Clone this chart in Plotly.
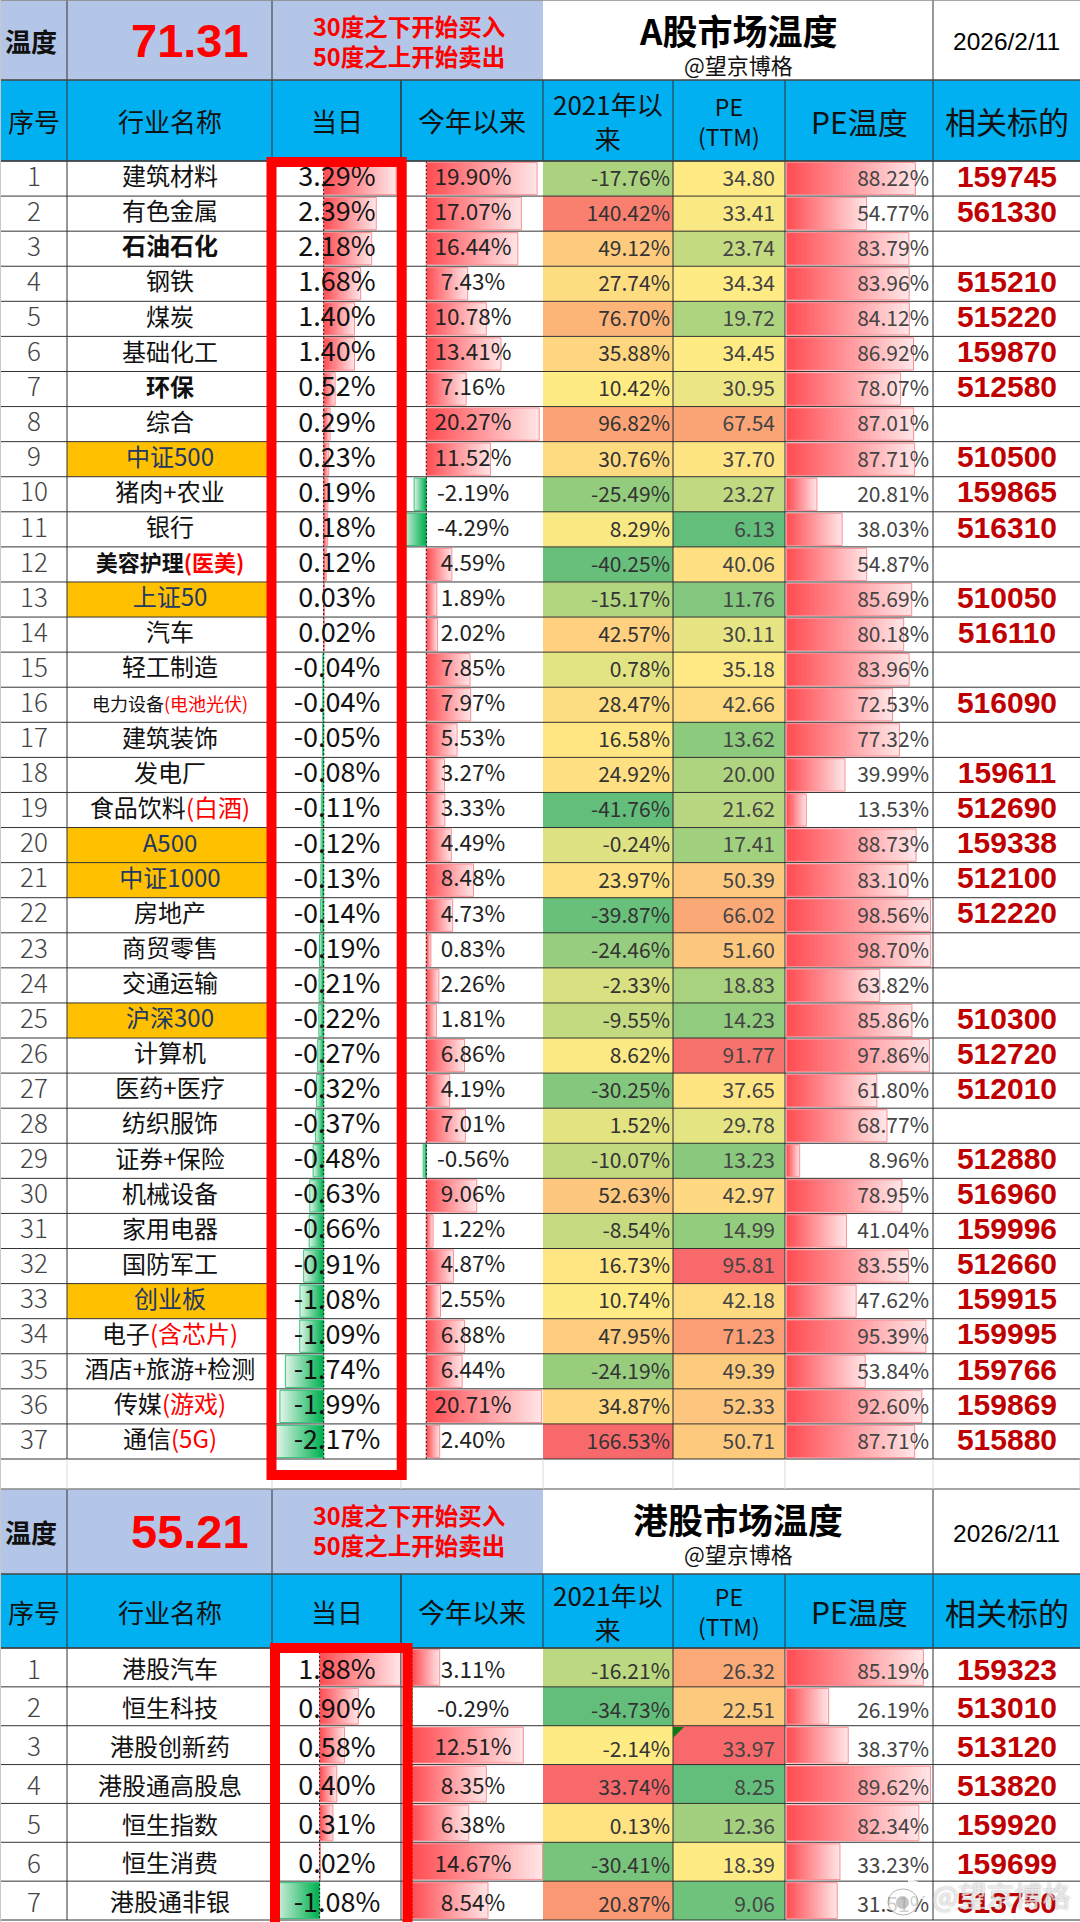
import plotly.graph_objects as go

W, H = 1080, 1922
CJK = "Noto Sans CJK SC"
ARIAL = "Liberation Sans"
NAVY = "<span style='color:#1F3864'>%s</span>"
RED = "<span style='color:#FF0000'>%s</span>"

# ---- A股 table data
a_names = ["建筑材料", "有色金属", "<b>石油石化</b>", "钢铁", "煤炭", "基础化工", "<b>环保</b>", "综合", NAVY % "中证500",
           "猪肉+农业", "银行", "<span style='font-size:22px'><b>美容护理" + RED % "(医美)" + "</b></span>", NAVY % "上证50",
           "汽车", "轻工制造",
           "<span style='font-size:18px'>电力设备" + RED % "(电池光伏)" + "</span>", "建筑装饰", "发电厂",
           "食品饮料" + RED % "(白酒)", NAVY % "A500", NAVY % "中证1000", "房地产", "商贸零售", "交通运输",
           NAVY % "沪深300", "计算机", "医药+医疗", "纺织服饰", "证券+保险", "机械设备", "家用电器", "国防军工", NAVY % "创业板",
           "电子" + RED % "(含芯片)", "酒店+旅游+检测", "传媒" + RED % "(游戏)", "通信" + RED % "(5G)"]
a_today = [3.29, 2.39, 2.18, 1.68, 1.40, 1.40, 0.52, 0.29, 0.23, 0.19, 0.18, 0.12, 0.03, 0.02, -0.04, -0.04, -0.05,
           -0.08, -0.11, -0.12, -0.13, -0.14, -0.19, -0.21, -0.22, -0.27, -0.32, -0.37, -0.48, -0.63, -0.66, -0.91,
           -1.08, -1.09, -1.74, -1.99, -2.17]
a_ytd = [19.90, 17.07, 16.44, 7.43, 10.78, 13.41, 7.16, 20.27, 11.52, -2.19, -4.29, 4.59, 1.89, 2.02, 7.85, 7.97, 5.53,
         3.27, 3.33, 4.49, 8.48, 4.73, 0.83, 2.26, 1.81, 6.86, 4.19, 7.01, -0.56, 9.06, 1.22, 4.87, 2.55, 6.88, 6.44,
         20.71, 2.40]
a_since = [-17.76, 140.42, 49.12, 27.74, 76.70, 35.88, 10.42, 96.82, 30.76, -25.49, 8.29, -40.25, -15.17, 42.57, 0.78,
           28.47, 16.58, 24.92, -41.76, -0.24, 23.97, -39.87, -24.46, -2.33, -9.55, 8.62, -30.25, 1.52, -10.07, 52.63,
           -8.54, 16.73, 10.74, 47.95, -24.19, 34.87, 166.53]
a_pe = [34.80, 33.41, 23.74, 34.34, 19.72, 34.45, 30.95, 67.54, 37.70, 23.27, 6.13, 40.06, 11.76, 30.11, 35.18, 42.66,
        13.62, 20.00, 21.62, 17.41, 50.39, 66.02, 51.60, 18.83, 14.23, 91.77, 37.65, 29.78, 13.23, 42.97, 14.99, 95.81,
        42.18, 71.23, 49.39, 52.33, 50.71]
a_temp = [88.22, 54.77, 83.79, 83.96, 84.12, 86.92, 78.07, 87.01, 87.71, 20.81, 38.03, 54.87, 85.69, 80.18, 83.96,
          72.53, 77.32, 39.99, 13.53, 88.73, 83.10, 98.56, 98.70, 63.82, 85.86, 97.86, 61.80, 68.77, 8.96, 78.95,
          41.04, 83.55, 47.62, 95.39, 53.84, 92.60, 87.71]
a_codes = ["159745", "561330", "", "515210", "515220", "159870", "512580", "", "510500", "159865", "516310", "",
           "510050", "516110", "", "516090", "", "159611", "512690", "159338", "512100", "512220", "", "", "510300",
           "512720", "512010", "", "512880", "516960", "159996", "512660", "159915", "159995", "159766", "159869",
           "515880"]
a_orange = [8, 12, 19, 20, 24, 32]

# ---- 港股 table data
b_names = ["港股汽车", "恒生科技", "港股创新药", "港股通高股息", "恒生指数", "恒生消费", "港股通非银"]
b_today = [1.88, 0.90, 0.58, 0.40, 0.31, 0.02, -1.08]
b_ytd = [3.11, -0.29, 12.51, 8.35, 6.38, 14.67, 8.54]
b_since = [-16.21, -34.73, -2.14, 33.74, 0.13, -30.41, 20.87]
b_pe = [26.32, 22.51, 33.97, 8.25, 12.36, 18.39, 9.06]
b_temp = [85.19, 26.19, 38.37, 89.62, 82.34, 33.23, 31.51]
b_codes = ["159323", "513010", "513120", "513820", "159920", "159699", "513750"]

header_a = ["序号", "行业名称", "当日", "今年以来", "2021年以<br>来", "PE<br>(TTM)", "PE温度", "相关标的"]

# column edges in page pixels
COLS = [0, 67, 272, 401, 543, 673, 785, 933, 1080]
STEPS = 32


def px(x):
    return x / W


def py(y):
    return 1 - y / H


def mix(c1, c2, t):
    return "rgb(%d,%d,%d)" % tuple(round(a + (b - a) * t) for a, b in zip(c1, c2))


fig = go.Figure()
shapes = []
annos = []


def rect(x0, y0, x1, y1, color, layer="below"):
    shapes.append(dict(type="rect", xref="paper", yref="paper", x0=px(x0), x1=px(x1), y0=py(y0), y1=py(y1),
                       fillcolor=color, line_width=0, layer=layer))


def line(x0, y0, x1, y1, color="#333333", width=1):
    shapes.append(dict(type="line", xref="paper", yref="paper", x0=px(x0), x1=px(x1), y0=py(y0), y1=py(y1),
                       line=dict(color=color, width=width), layer="above"))


def label(x, y, text, size, color="#111111", family=CJK, bold=False):
    annos.append(dict(xref="paper", yref="paper", x=px(x), y=py(y), text="<b>%s</b>" % text if bold else text,
                      showarrow=False, xanchor="center", yanchor="middle",
                      font=dict(size=size, color=color, family=family)))


def add_table(tag, top, blue, first, last, names, today, ytd, since, pe, temp, codes, scales, score, title):
    # tag 0 -> A股, 1 -> 港股: every table has its own row axes and data bar axes
    n = len(names)
    rows = list(range(n))
    yfill = "y" if tag == 0 else "y2"
    ytext = "y3" if tag == 0 else "y4"
    step = (last - first) / n
    drop = 0.02 if tag == 0 else 0.12  # the cell texts sit a little under the row middle

    # header blocks
    rect(0, top, COLS[4], blue, "#B4C6E7")
    rect(0, blue, W, first, "#00B0F0")
    label(31, (top + blue) / 2, "<b>温度</b>", 26)
    label(190, (top + blue) / 2, score, 47, "#FF0000", ARIAL, True)
    label(409, top + 26, "<b>30度之下开始买入</b>", 23.5, "#FF0000")
    label(409, top + 56, "<b>50度之上开始卖出</b>", 23.5, "#FF0000")
    label(738, top + 29, title, 35, "#000000", CJK, True)
    label(738, top + 64, "@望京博格", 22)
    label(1006, (top + blue) / 2 + 2, "2026/2/11", 24.5, "#000000", ARIAL)
    mid = (blue + first) / 2
    sizes = [26, 26, 26, 27, 26, 23, 30, 31]
    for i, h in enumerate(header_a):
        label((COLS[i] + COLS[i + 1]) / 2, mid, h, sizes[i])

    # heat coloured cells, Excel style min / median / max scale
    edges = [i - 0.5 for i in range(n + 1)]
    for col, vals in ((4, since), (5, pe)):
        lo, hi = min(vals), max(vals)
        med = sorted(vals)[n // 2]
        fig.add_trace(go.Heatmap(z=[[v] for v in vals], x=[COLS[col], COLS[col + 1]], y=edges, zmin=lo, zmax=hi,
                                 colorscale=[[0, "#63BE7B"], [(med - lo) / (hi - lo), "#FFEB84"], [1, "#F8696B"]],
                                 showscale=False, hoverinfo="skip", xaxis="x", yaxis=yfill))

    # data bars with a fading fill, longest first so that the shorter ones paint over them
    for axis, vals in zip(scales, (today, ytd, temp)):
        for k in range(STEPS, 0, -1):
            t = (k - 1) / (STEPS - 1)
            colors = [mix((255, 78, 84), (255, 228, 230), t) if v >= 0 else mix((0, 176, 80), (222, 244, 231), t)
                      for v in vals]
            fig.add_trace(go.Bar(y=rows, x=[v * k / STEPS for v in vals], orientation="h", width=0.92,
                                 marker=dict(color=colors, line_width=0), hoverinfo="skip", xaxis=axis, yaxis=yfill))
        edge = ["#FF8F94" if v >= 0 else "#35C47A" for v in vals]
        fig.add_trace(go.Bar(y=rows, x=vals, orientation="h", width=0.92,
                             marker=dict(color="rgba(0,0,0,0)", line=dict(color=edge, width=1)),
                             hoverinfo="skip", xaxis=axis, yaxis=yfill))
    for axis in scales[:2]:
        fig.add_trace(go.Scatter(x=[0, 0], y=[-0.5, n - 0.5], mode="lines", hoverinfo="skip",
                                 line=dict(color="#222222", width=1, dash="2px,2px"), xaxis=axis, yaxis=yfill))

    # cell texts
    def text_col(x, labels, size, color, pos, family=CJK, weight=None, dy=0.0):
        font = dict(size=size, color=color, family=family)
        if weight:
            font["weight"] = weight
        fig.add_trace(go.Scatter(x=[x] * n, y=[r + drop + dy for r in rows], text=labels, mode="text", textposition=pos,
                                 textfont=font, cliponaxis=False, hoverinfo="skip", xaxis="x8", yaxis=ytext))

    text_col(34, [str(i + 1) for i in rows], 26, "#444444", "middle center", weight=300)
    text_col(170, names, 24, "#111111", "middle center")
    text_col(337, ["%.2f%%" % v for v in today], 27, "#111111", "middle center")
    text_col(473, ["%.2f%%" % v for v in ytd], 22.5, "#222222", "middle center")
    text_col(670, ["%.2f%%" % v for v in since], 21, "#333333", "middle left", dy=0.04)
    text_col(775, ["%.2f" % v for v in pe], 21, "#444444", "middle left", dy=0.04)
    text_col(929, ["%.2f%%" % v for v in temp], 21, "#444444", "middle left", dy=0.04)
    text_col(1007, codes, 30, "#C00000", "middle center", ARIAL, 700)

    # grid
    for i in range(n + 1):
        line(0, first + i * step, W, first + i * step)
    for x in (COLS[1], COLS[2], COLS[7]):
        line(x, top, x, last)
    for x in (COLS[3], COLS[4]):
        line(x, blue, x, first)
    for x in (COLS[3], COLS[5], COLS[6]):
        line(x, blue, x, last)
    line(0, blue, W, blue, "#444444", 1.5)
    line(0, first, W, first, "#444444", 1.5)
    line(0, top, W, top, "#888888", 1.5)


add_table(0, 0, 80, 161, 1459, a_names, a_today, a_ytd, a_since, a_pe, a_temp, a_codes, ("x2", "x3", "x4"),
          "71.31", "A股市场温度")
add_table(1, 1489, 1574, 1648, 1920, b_names, b_today, b_ytd, b_since, b_pe, b_temp, b_codes, ("x5", "x6", "x7"),
          "55.21", "港股市场温度")

# orange index cells
for i in a_orange:
    step = (1459 - 161) / 37
    rect(COLS[1], 161 + i * step, COLS[2], 161 + (i + 1) * step, "#FFC000")

# blank row between the tables and the left page edge
for x in COLS[1:]:
    line(x, 1459, x, 1489, "#D9D9D9")
line(0.5, 0, 0.5, H, "#C8C8C8")

# comment mark in the 港股 PE cell
shapes.append(dict(type="path", xref="paper", yref="paper", layer="above", fillcolor="#0A7A14", line_width=0,
                   path="M %f %f L %f %f L %f %f Z" % (px(673), py(1727), px(684), py(1727), px(673), py(1738))))

# red boxes round the 当日 column
for x0, y0, x1, y1 in ((271.5, 162, 401.7, 1475), (275, 1648, 407.5, 1960)):
    shapes.append(dict(type="rect", xref="paper", yref="paper", x0=px(x0), x1=px(x1), y0=py(y0), y1=py(y1),
                       line=dict(color="#FF0000", width=10), fillcolor="rgba(0,0,0,0)", layer="above"))

# watermark: weibo style logo plus the account name
annos.append(dict(xref="paper", yref="paper", x=px(1001), y=py(1895), text="@望京博格", showarrow=False,
                  xanchor="center", yanchor="middle",
                  font=dict(size=28, family=CJK, color="rgba(255,255,255,0.68)", shadow="0px 0px 2px #777777")))
shapes.append(dict(type="circle", xref="paper", yref="paper", x0=px(888), x1=px(918), y0=py(1889), y1=py(1915),
                   fillcolor="rgba(255,255,255,0.75)", line=dict(color="rgba(130,130,130,0.6)", width=1), layer="above"))
shapes.append(dict(type="circle", xref="paper", yref="paper", x0=px(896), x1=px(909), y0=py(1896), y1=py(1909),
                   fillcolor="rgba(150,150,150,0.55)", line_width=0, layer="above"))
shapes.append(dict(type="path", xref="paper", yref="paper", layer="above", fillcolor="rgba(0,0,0,0)",
                   line=dict(color="rgba(255,255,255,0.85)", width=3),
                   path="M %f %f Q %f %f %f %f" % (px(908), py(1881), px(925), py(1881), px(922), py(1899))))


def hidden(**kw):
    return dict(visible=False, fixedrange=True, **kw)


def bar_axis(col, zero, scale):
    # range picked so that the value 0 sits at page pixel `zero` with `scale` pixels per percent
    return hidden(domain=[px(COLS[col]), px(COLS[col + 1])],
                  range=[(COLS[col] - zero) / scale, (COLS[col + 1] - zero) / scale], anchor="y")


rows_a = [py(1459), py(161)]
rows_b = [py(1920), py(1648)]
fig.update_layout(
    width=W, height=H, margin=dict(l=0, r=0, t=0, b=0, pad=0),
    autosize=False,
    paper_bgcolor="white", plot_bgcolor="rgba(0,0,0,0)",
    showlegend=False, barmode="overlay", shapes=shapes, annotations=annos,
    xaxis=hidden(domain=[0, 1], range=[0, W]),
    xaxis2=bar_axis(2, 323.7, 22), xaxis3=bar_axis(3, 426.3, 5.57), xaxis4=bar_axis(6, 786.6, 1.46),
    xaxis5=bar_axis(2, 319.6, 43), xaxis6=bar_axis(3, 412, 8.9), xaxis7=bar_axis(6, 786.6, 1.606),
    xaxis8=hidden(domain=[0, 1], range=[0, W]),
    yaxis=hidden(domain=rows_a, range=[36.5, -0.5], anchor="x"),
    yaxis2=hidden(domain=rows_b, range=[6.5, -0.5], anchor="x"),
    yaxis3=hidden(domain=rows_a, range=[36.5, -0.5], anchor="x8"),
    yaxis4=hidden(domain=rows_b, range=[6.5, -0.5], anchor="x8"),
)

fig.write_html("out.html", config=dict(displayModeBar=False),
               post_script="document.body.style.margin='0';document.documentElement.style.overflow='hidden';")
